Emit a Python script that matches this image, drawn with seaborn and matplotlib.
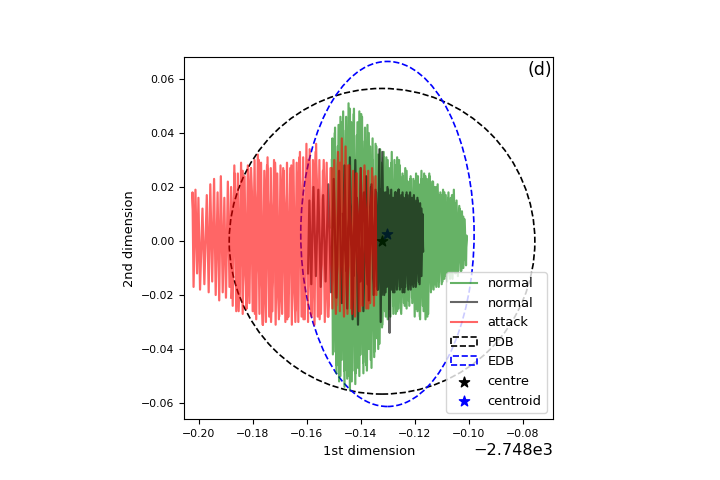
import numpy as np
import pandas as pd
import matplotlib
matplotlib.use("Agg")
import matplotlib.pyplot as plt
from matplotlib.patches import Ellipse
from matplotlib.lines import Line2D
import seaborn as sns

X_OFFSET = -2748.0

# (1st dimension relative to offset, 2nd dimension)
green_pts = [
    (-0.1508, 0.005), (-0.1505, 0.038), (-0.1500, -0.041), (-0.1495, 0.042), (-0.1490, -0.049),
    (-0.1485, 0.035), (-0.1480, -0.052), (-0.1475, 0.046), (-0.1470, -0.044), (-0.1465, 0.048),
    (-0.1460, -0.054), (-0.1455, 0.041), (-0.1450, -0.051), (-0.1445, 0.051), (-0.1440, -0.055),
    (-0.1435, 0.044), (-0.1430, -0.048), (-0.1425, 0.049), (-0.1420, -0.053), (-0.1415, 0.039),
    (-0.1410, -0.047), (-0.1405, 0.048), (-0.1400, -0.042), (-0.1395, 0.046), (-0.1390, -0.049),
    (-0.1385, 0.037), (-0.1380, -0.046), (-0.1375, 0.043), (-0.1370, -0.040), (-0.1365, 0.035),
    (-0.1360, -0.047), (-0.1355, 0.030), (-0.1350, -0.043), (-0.1345, 0.036), (-0.1340, -0.036),
    (-0.1335, 0.032), (-0.1330, -0.038), (-0.1325, 0.029), (-0.1320, -0.031), (-0.1315, 0.033),
    (-0.1310, -0.026), (-0.1305, 0.031), (-0.1300, -0.029), (-0.1295, 0.027), (-0.1290, -0.028),
    (-0.1285, 0.033), (-0.1280, -0.024), (-0.1275, 0.030), (-0.1270, -0.027), (-0.1265, 0.031),
    (-0.1260, -0.025), (-0.1255, 0.028), (-0.1250, -0.027), (-0.1245, 0.025), (-0.1240, -0.023),
    (-0.1235, 0.027), (-0.1230, -0.025), (-0.1225, 0.022), (-0.1220, -0.024), (-0.1215, 0.024),
    (-0.1210, -0.021), (-0.1205, 0.023), (-0.1200, -0.028), (-0.1195, 0.025), (-0.1190, -0.026),
    (-0.1185, 0.021), (-0.1180, -0.029), (-0.1175, 0.026), (-0.1170, -0.024), (-0.1165, 0.025),
    (-0.1160, -0.029), (-0.1155, 0.023), (-0.1150, -0.027), (-0.1145, 0.024), (-0.1140, -0.019),
    (-0.1135, 0.022), (-0.1130, -0.018), (-0.1125, 0.020), (-0.1120, -0.017), (-0.1115, 0.021),
    (-0.1110, -0.015), (-0.1105, 0.018), (-0.1100, -0.016), (-0.1095, 0.019), (-0.1090, -0.014),
    (-0.1085, 0.017), (-0.1080, -0.015), (-0.1075, 0.018), (-0.1070, -0.013), (-0.1065, 0.016),
    (-0.1060, -0.014), (-0.1055, 0.019), (-0.1050, -0.012), (-0.1045, 0.015), (-0.1040, -0.013),
    (-0.1035, 0.013), (-0.1030, -0.011), (-0.1025, 0.011), (-0.1020, -0.010), (-0.1015, 0.008),
    (-0.1010, -0.009), (-0.1008, 0.002),
    (-0.1013, -0.007), (-0.1020, 0.009), (-0.1027, -0.011), (-0.1034, 0.012), (-0.1041, -0.012),
    (-0.1048, 0.014), (-0.1055, -0.011), (-0.1062, 0.017), (-0.1069, -0.014), (-0.1076, 0.016),
    (-0.1083, -0.013), (-0.1090, 0.018), (-0.1097, -0.015), (-0.1104, 0.017), (-0.1111, -0.017),
    (-0.1118, 0.020), (-0.1125, -0.016), (-0.1132, 0.022), (-0.1139, -0.018), (-0.1146, 0.025),
    (-0.1153, -0.028), (-0.1160, 0.024), (-0.1167, -0.026), (-0.1174, 0.023), (-0.1181, -0.028),
    (-0.1188, 0.024), (-0.1195, -0.025), (-0.1202, 0.022), (-0.1209, -0.023), (-0.1216, 0.023),
    (-0.1223, -0.022), (-0.1230, 0.026), (-0.1237, -0.024), (-0.1244, 0.024), (-0.1251, -0.026),
    (-0.1258, 0.030), (-0.1265, -0.026), (-0.1272, 0.028), (-0.1279, -0.027), (-0.1286, 0.029),
    (-0.1293, -0.025), (-0.1300, 0.030), (-0.1307, -0.028), (-0.1314, 0.031), (-0.1321, -0.032),
    (-0.1328, 0.034), (-0.1335, -0.040), (-0.1342, 0.035), (-0.1349, -0.041), (-0.1356, 0.038),
    (-0.1363, -0.044), (-0.1370, 0.040), (-0.1377, -0.048), (-0.1384, 0.042), (-0.1391, -0.045),
    (-0.1398, 0.047), (-0.1405, -0.050), (-0.1412, 0.044), (-0.1419, -0.049), (-0.1426, 0.047),
    (-0.1433, -0.052), (-0.1440, 0.049), (-0.1447, -0.050), (-0.1454, 0.046), (-0.1461, -0.048),
    (-0.1468, 0.044), (-0.1475, -0.050), (-0.1482, 0.043), (-0.1489, -0.046), (-0.1496, 0.040),
    (-0.1503, -0.042), (-0.1507, 0.030),
]

grey_pts = [
    (-0.1595, -0.012), (-0.1590, 0.015), (-0.1583, -0.016), (-0.1575, 0.020), (-0.1566, -0.013),
    (-0.1557, 0.019), (-0.1548, -0.017), (-0.1539, 0.017), (-0.1530, -0.015), (-0.1520, 0.021),
    (-0.1510, -0.019), (-0.1500, 0.023), (-0.1490, -0.021), (-0.1480, 0.026), (-0.1470, -0.023),
    (-0.1460, 0.028), (-0.1450, -0.025), (-0.1440, 0.031), (-0.1430, -0.029), (-0.1420, 0.030),
    (-0.1410, -0.031), (-0.1400, 0.027), (-0.1390, -0.026), (-0.1380, 0.024), (-0.1370, -0.022),
    (-0.1360, 0.021), (-0.1352, -0.020), (-0.1345, 0.019), (-0.1338, -0.018), (-0.1331, 0.034),
    (-0.1326, -0.030), (-0.1320, 0.033), (-0.1313, -0.020),
    (-0.1308, 0.018), (-0.1303, -0.017), (-0.1298, 0.019), (-0.1293, -0.034), (-0.1290, 0.017),
    (-0.1285, -0.018), (-0.1280, 0.016), (-0.1275, -0.019), (-0.1270, 0.018), (-0.1265, -0.017),
    (-0.1260, 0.019), (-0.1255, -0.018), (-0.1250, 0.017), (-0.1245, -0.019), (-0.1240, 0.016),
    (-0.1235, -0.017), (-0.1230, 0.018), (-0.1225, -0.016), (-0.1220, 0.017), (-0.1215, -0.018),
    (-0.1210, 0.016), (-0.1205, -0.017), (-0.1200, 0.015), (-0.1195, -0.016), (-0.1190, 0.016),
    (-0.1185, -0.015), (-0.1180, 0.014), (-0.1175, -0.013), (-0.1171, 0.010), (-0.1169, -0.004),
    (-0.1175, 0.012), (-0.1182, -0.016), (-0.1189, 0.015), (-0.1196, -0.017), (-0.1203, 0.017),
    (-0.1210, -0.016), (-0.1217, 0.018), (-0.1224, -0.018), (-0.1231, 0.017), (-0.1238, -0.019),
    (-0.1245, 0.018), (-0.1252, -0.017), (-0.1259, 0.019), (-0.1266, -0.018), (-0.1273, 0.018),
    (-0.1280, -0.019), (-0.1287, 0.019), (-0.1294, -0.018), (-0.1301, 0.020), (-0.1308, -0.019),
    (-0.1315, 0.018), (-0.1322, -0.020), (-0.1329, 0.019), (-0.1336, -0.018), (-0.1343, 0.018),
    (-0.1350, -0.017), (-0.1362, 0.020), (-0.1375, -0.016), (-0.1388, 0.018), (-0.1401, -0.015),
    (-0.1414, 0.016), (-0.1427, -0.013), (-0.1440, 0.014), (-0.1453, -0.011), (-0.1466, 0.010),
]

red_pts = [
    (-0.2018, 0.004), (-0.2023, 0.018), (-0.2019, -0.017), (-0.2012, 0.019), (-0.2006, -0.012),
    (-0.2001, 0.016), (-0.1995, -0.018), (-0.1986, 0.012), (-0.1979, -0.016), (-0.1970, 0.017),
    (-0.1963, -0.019), (-0.1957, 0.021), (-0.1950, -0.015), (-0.1943, 0.023), (-0.1937, -0.020),
    (-0.1930, 0.018), (-0.1924, -0.022), (-0.1918, 0.024), (-0.1911, -0.019), (-0.1905, 0.016),
    (-0.1899, -0.021), (-0.1892, 0.022), (-0.1886, -0.017), (-0.1880, 0.020), (-0.1874, -0.024),
    (-0.1868, 0.028), (-0.1861, -0.026), (-0.1855, 0.025), (-0.1849, -0.022), (-0.1843, 0.029),
    (-0.1837, -0.027), (-0.1830, 0.024), (-0.1824, -0.025), (-0.1818, 0.028), (-0.1812, -0.023),
    (-0.1806, 0.027), (-0.1800, -0.026), (-0.1793, 0.030), (-0.1787, -0.029), (-0.1781, 0.032),
    (-0.1775, -0.027), (-0.1769, 0.029), (-0.1763, -0.031), (-0.1757, 0.026), (-0.1751, -0.030),
    (-0.1745, 0.031), (-0.1739, -0.028), (-0.1733, 0.027), (-0.1727, -0.026), (-0.1721, 0.030),
    (-0.1715, -0.031), (-0.1709, 0.025), (-0.1703, -0.029), (-0.1697, 0.028), (-0.1691, -0.027),
    (-0.1685, 0.026), (-0.1679, -0.030), (-0.1673, 0.029), (-0.1667, -0.028), (-0.1661, 0.027),
    (-0.1655, -0.031), (-0.1649, 0.030), (-0.1643, -0.026), (-0.1637, 0.029), (-0.1631, -0.030),
    (-0.1625, 0.033), (-0.1619, -0.028), (-0.1613, 0.031), (-0.1607, -0.029), (-0.1601, 0.036),
    (-0.1595, -0.030), (-0.1589, 0.034), (-0.1583, -0.027), (-0.1577, 0.030), (-0.1571, -0.031),
    (-0.1565, 0.036), (-0.1559, -0.028), (-0.1553, 0.030), (-0.1547, -0.027), (-0.1540, 0.026),
    (-0.1533, -0.030), (-0.1526, 0.029), (-0.1519, -0.028), (-0.1512, 0.027), (-0.1505, -0.025),
    (-0.1498, 0.030), (-0.1491, -0.024), (-0.1484, 0.033), (-0.1477, -0.026), (-0.1470, 0.038),
    (-0.1463, -0.023), (-0.1456, 0.035), (-0.1449, -0.027), (-0.1442, 0.028), (-0.1435, -0.025),
    (-0.1428, 0.026), (-0.1421, -0.028), (-0.1414, 0.025), (-0.1407, -0.026), (-0.1400, 0.027),
    (-0.1393, -0.024), (-0.1386, 0.028), (-0.1379, -0.025), (-0.1372, 0.026), (-0.1365, -0.023),
    (-0.1358, 0.027), (-0.1351, -0.024), (-0.1345, 0.024), (-0.1342, -0.020),
    (-0.1357, 0.024), (-0.1372, -0.025), (-0.1387, 0.026), (-0.1402, -0.026), (-0.1417, 0.025),
    (-0.1432, -0.027), (-0.1447, 0.028), (-0.1462, -0.028), (-0.1477, 0.029), (-0.1492, -0.027),
    (-0.1507, 0.027), (-0.1522, -0.028), (-0.1537, 0.030), (-0.1552, -0.029), (-0.1567, 0.033),
    (-0.1582, -0.028), (-0.1597, 0.030), (-0.1612, -0.029), (-0.1627, 0.031), (-0.1642, -0.030),
    (-0.1657, 0.028), (-0.1672, -0.029), (-0.1687, 0.027), (-0.1702, -0.028), (-0.1717, 0.029),
    (-0.1732, -0.030), (-0.1747, 0.028), (-0.1762, -0.031), (-0.1777, 0.030), (-0.1792, -0.027),
    (-0.1807, 0.027), (-0.1822, -0.025), (-0.1837, 0.026), (-0.1852, -0.026), (-0.1867, 0.025),
    (-0.1880, -0.021),
]

centre = (-0.1321, -0.0001)
centroid = (-0.1301, 0.0026)
pdb_radius = 0.0566
edb_half_axes = (0.0321, 0.0639)

series_labels = ["normal", "normal", "attack"]
series_colors = ["green", "black", "red"]

fig = plt.figure(figsize=(7.2, 4.8), dpi=100)
ax = fig.add_axes([184.3 / 720, (480 - 419.3) / 480, 369 / 720, 362 / 480])

for pts, lab, col in zip([green_pts, grey_pts, red_pts], series_labels, series_colors):
    arr = np.array(pts)
    df = pd.DataFrame({"x": arr[:, 0] + X_OFFSET, "y": arr[:, 1]})
    sns.lineplot(data=df, x="x", y="y", sort=False, estimator=None, color=col,
                 alpha=0.6, linewidth=1.6, ax=ax, label=lab)

pdb = Ellipse((centre[0] + X_OFFSET, centre[1]), 2 * pdb_radius, 2 * pdb_radius,
              fill=False, edgecolor="black", linestyle="--", linewidth=1.2, label="PDB")
edb = Ellipse((centroid[0] + X_OFFSET, centroid[1]), 2 * edb_half_axes[0], 2 * edb_half_axes[1],
              fill=False, edgecolor="blue", linestyle="--", linewidth=1.2, label="EDB")
ax.add_patch(pdb)
ax.add_patch(edb)

s1 = ax.scatter([centre[0] + X_OFFSET], [centre[1]], marker="*", color="black", s=60,
                label="centre", zorder=1)
s2 = ax.scatter([centroid[0] + X_OFFSET], [centroid[1]], marker="*", color="blue", s=60,
                label="centroid", zorder=1)

ax.set_xlim(-0.20533 + X_OFFSET, -0.06867 + X_OFFSET)
ax.set_ylim(-0.06604, 0.06804)

ax.set_xlabel("1st dimension", fontsize=9.4)
ax.set_ylabel("2nd dimension", fontsize=9.4)
ax.tick_params(labelsize=7.8)
ax.xaxis.get_offset_text().set_fontsize(11.6)

ax.text(0.998, 0.99, "(d)", transform=ax.transAxes, ha="right", va="top", fontsize=12.5)

handles = [Line2D([], [], color=c, alpha=0.6, linewidth=1.5) for c in series_colors]
handles += [pdb, edb, s1, s2]
labels = series_labels + ["PDB", "EDB", "centre", "centroid"]
ax.legend(handles, labels, loc="lower right", fontsize=9.4)

fig.savefig("out.png", dpi=100)
